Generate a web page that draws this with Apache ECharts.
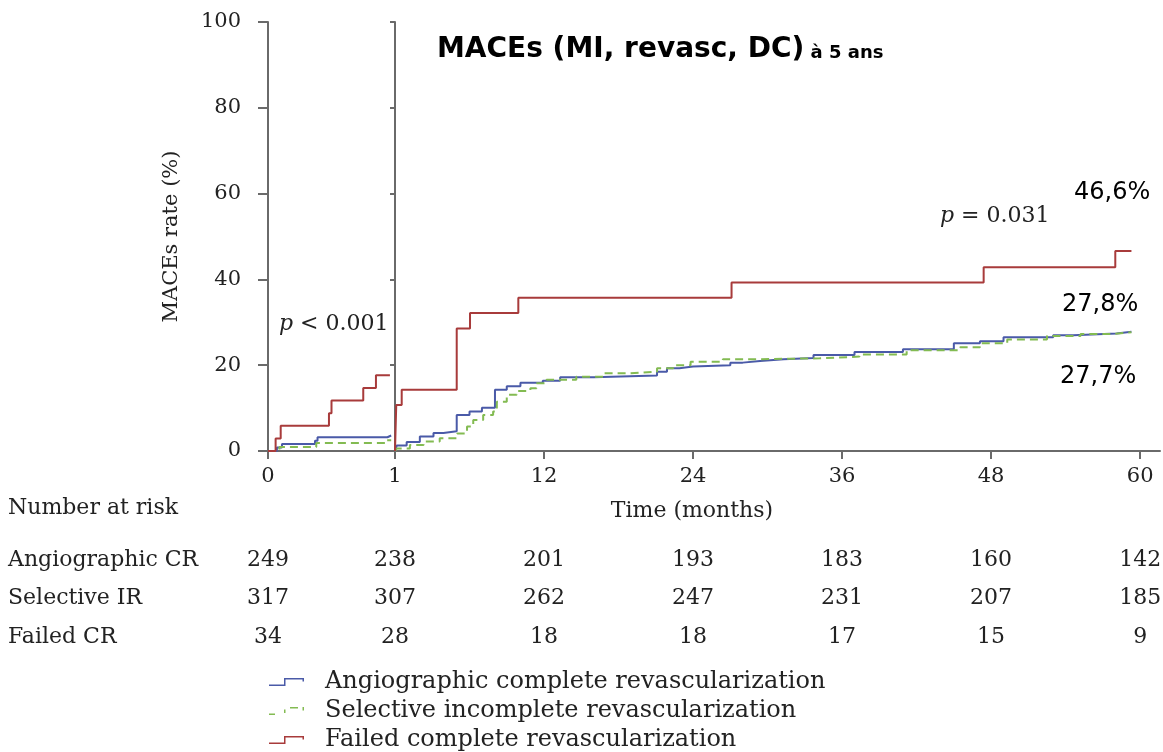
<!DOCTYPE html>
<html>
<head>
<meta charset="utf-8">
<script src="https://cdn.jsdelivr.net/npm/echarts@6/dist/echarts.min.js"></script>
<style>
  html, body { margin: 0; padding: 0; background: #fff; }
  #chart { width: 1163px; height: 752px; }
</style>
</head>
<body>
<div id="chart"></div>
<script>
// ---- data ----
const groupNames = [
  'Angiographic complete revascularization',
  'Selective incomplete revascularization',
  'Failed complete revascularization'
];
const riskGroups = ['Angiographic CR', 'Selective IR', 'Failed CR'];
const riskTimes = [0, 1, 12, 24, 36, 48, 60];
const riskAngio = [249, 238, 201, 193, 183, 160, 142];
const riskSelective = [317, 307, 262, 247, 231, 207, 185];
const riskFailed = [34, 28, 18, 18, 17, 15, 9];

const earlyTicks = [0, 1];
const lateTicks = [12, 24, 36, 48, 60];

// cumulative MACE rate (%) during the first month: [month, rate]
const angioEarly = [[0, 0], [0.07, 0.8], [0.11, 1.61], [0.37, 2.41], [0.39, 3.21], [0.94, 3.61], [0.97, 3.61]];
const selectiveEarly = [[0, 0], [0.09, 0.95], [0.38, 1.89], [0.93, 2.52], [0.97, 2.52]];
const failedEarly = [[0, 0], [0.06, 2.94], [0.10, 5.88], [0.48, 8.82], [0.50, 11.76], [0.75, 14.71], [0.85, 17.65], [0.96, 17.65]];

// cumulative MACE rate (%) after the 1-month landmark: [month, rate]
const angioLate = [[0, 0], [0.15, 1.3], [0.94, 2.1], [2.0, 3.4], [3.1, 4.2], [3.9, 4.6], [4.97, 8.4], [6.0, 9.2],
  [7.0, 10.1], [8.05, 14.3], [9.0, 15.1], [10.1, 15.9], [11.9, 16.4], [13.3, 17.2], [16.0, 17.6], [21.1, 18.5],
  [21.9, 19.3], [22.9, 19.7], [24.0, 20.0], [27.0, 20.6], [28.0, 21.0], [29.4, 21.4], [31.3, 21.7], [33.7, 22.4],
  [37.0, 23.1], [40.9, 23.7], [45.0, 25.1], [47.1, 25.6], [49.0, 26.5], [53.0, 27.0], [54.6, 27.4], [58.1, 27.8],
  [59.3, 27.8]];
const selectiveLate = [[0, 0], [0.15, 0.6], [1.2, 1.4], [2.3, 2.2], [3.6, 3.0], [5.0, 4.1], [5.8, 5.7], [6.3, 7.2],
  [7.1, 8.4], [7.9, 9.2], [8.2, 11.5], [9.0, 13.1], [9.8, 14.0], [10.9, 14.6], [11.4, 15.8], [12.2, 16.6],
  [14.6, 17.3], [16.8, 18.1], [18.9, 18.5], [21.1, 19.3], [22.4, 20.0], [23.8, 20.8], [26.4, 21.4], [29.1, 21.6],
  [34.2, 22.0], [37.4, 22.5], [41.2, 23.5], [45.5, 24.2], [47.1, 25.1], [49.3, 26.0], [52.5, 26.8], [55.2, 27.3],
  [57.8, 27.7], [59.3, 27.7]];
const failedLate = [[0, 0], [0.1, 10.71], [0.54, 14.29], [4.97, 28.57], [6.04, 32.14], [9.93, 35.71], [27.1, 39.29],
  [47.4, 42.86], [58.0, 46.6], [59.3, 46.6]];

const pEarly = '< 0.001';
const pLate = '= 0.031';

// ---- styling ----
const SERIF = '"DejaVu Serif", serif';
const SANS = '"DejaVu Sans", sans-serif';
const INK = '#222';
const AXIS = '#6a6a6a';
const colors = ['#4a5aa8', '#83bb52', '#a83b3b'];

const pct = v => v.toFixed(1).replace('.', ',') + '%';
const last = arr => arr[arr.length - 1][1];

const iconSolid = 'path://M0,6.5L15,6.5L15,0L35,0L35,3.5L33.5,3.5L33.5,1.5L16.5,1.5L16.5,8L0,8Z';
const iconDashed = 'path://M0,6.5L6,6.5L6,8L0,8ZM15,2.5L16.5,2.5L16.5,6L15,6ZM21,0L29,0L29,1.5L21,1.5ZM33.5,0L35,0L35,3.5L33.5,3.5Z';

const axisLine = { show: true, lineStyle: { color: AXIS, width: 2 } };

function lineSeries(name, data, xi, color, dashed) {
  return {
    type: 'line', name, data, step: 'end', xAxisIndex: xi, yAxisIndex: xi,
    showSymbol: false, silent: true,
    lineStyle: { color, width: 2, type: dashed ? [8, 5] : 'solid' },
    itemStyle: { color }
  };
}

const chart = echarts.init(document.getElementById('chart'), null, { renderer: 'canvas' });

const option = {
  backgroundColor: '#fff',
  animation: false,
  title: {
    text: '{a|MACEs (MI, revasc, DC)}{b| à 5 ans}',
    left: 432, top: 31,
    textStyle: {
      rich: {
        a: { fontFamily: SANS, fontWeight: 'bold', fontSize: 28, color: '#000' },
        b: { fontFamily: SANS, fontWeight: 'bold', fontSize: 18, color: '#000', padding: [6, 0, 0, 0] }
      }
    }
  },
  grid: [
    { left: 268, top: 22, width: 127, height: 429 },
    { left: 395, top: 22, right: 3, height: 429 }
  ],
  xAxis: [
    {
      type: 'value', gridIndex: 0, min: 0, max: 1,
      axisLine,
      axisTick: { show: true, length: 8, lineStyle: { color: AXIS, width: 2 }, customValues: earlyTicks },
      axisLabel: { fontFamily: SERIF, fontSize: 21, color: INK, margin: 15, customValues: earlyTicks },
      splitLine: { show: false }
    },
    {
      type: 'value', gridIndex: 1, min: 0, max: 61.6,
      axisLine,
      axisTick: { show: true, length: 8, lineStyle: { color: AXIS, width: 2 }, customValues: lateTicks },
      axisLabel: { fontFamily: SERIF, fontSize: 21, color: INK, margin: 15, customValues: lateTicks },
      splitLine: { show: false }
    }
  ],
  yAxis: [
    {
      type: 'value', gridIndex: 0, min: 0, max: 100, interval: 20,
      name: 'MACEs rate (%)', nameLocation: 'middle', nameGap: 86,
      nameTextStyle: { fontFamily: SERIF, fontSize: 21, color: INK },
      axisLine,
      axisTick: { show: true, length: 10, lineStyle: { color: AXIS, width: 2 } },
      axisLabel: { fontFamily: SERIF, fontSize: 21, color: INK, margin: 27 },
      splitLine: { show: false }
    },
    {
      type: 'value', gridIndex: 1, min: 0, max: 100, interval: 20,
      axisLine,
      axisTick: { show: true, length: 5, lineStyle: { color: AXIS, width: 2 } },
      axisLabel: { show: false },
      splitLine: { show: false }
    }
  ],
  legend: {
    orient: 'vertical', left: 269, top: 670, height: 82, padding: 0,
    itemWidth: 35, itemHeight: 8, itemGap: 5,
    selectedMode: false,
    itemStyle: { borderWidth: 0 },
    textStyle: { fontFamily: SERIF, fontSize: 24, color: INK, padding: [0, 0, 0, 16], lineHeight: 24 },
    data: [
      { name: groupNames[0], icon: iconSolid },
      { name: groupNames[1], icon: iconDashed },
      { name: groupNames[2], icon: iconSolid }
    ]
  },
  series: [
    lineSeries(groupNames[0], angioEarly, 0, colors[0], false),
    lineSeries(groupNames[1], selectiveEarly, 0, colors[1], true),
    lineSeries(groupNames[2], failedEarly, 0, colors[2], false),
    lineSeries(groupNames[0], angioLate, 1, colors[0], false),
    lineSeries(groupNames[1], selectiveLate, 1, colors[1], true),
    lineSeries(groupNames[2], failedLate, 1, colors[2], false)
  ]
};

chart.setOption(option);

// ---- annotations and number-at-risk table ----
function colX(i) {
  const t = riskTimes[i];
  if (t <= 1) return chart.convertToPixel({ xAxisIndex: 0 }, t);
  return chart.convertToPixel({ xAxisIndex: 1 }, t);
}

function txt(text, x, y, opts) {
  return {
    type: 'text', x, y, silent: true,
    style: Object.assign({
      text, fontFamily: SERIF, fontSize: 22, fill: INK, align: 'left', verticalAlign: 'middle'
    }, opts || {})
  };
}

const italicP = { i: { fontStyle: 'italic', fontFamily: SERIF, fontSize: 22 } };
const graphics = [];
graphics.push(txt('{i|p} ' + pEarly, 279, 324, { rich: italicP }));
graphics.push(txt('{i|p} ' + pLate, 940, 216, { rich: italicP }));
graphics.push(txt(pct(last(failedLate)), 1074, 193, { fontFamily: SANS, fontSize: 24, fill: '#000' }));
graphics.push(txt(pct(last(angioLate)), 1062, 305, { fontFamily: SANS, fontSize: 24, fill: '#000' }));
graphics.push(txt(pct(last(selectiveLate)), 1060, 377, { fontFamily: SANS, fontSize: 24, fill: '#000' }));

graphics.push(txt('Number at risk', 8, 508));
graphics.push(txt('Time (months)', 692, 511, { align: 'center' }));

const riskRows = [riskAngio, riskSelective, riskFailed];
const rowY = [560, 598, 637];
riskRows.forEach((row, r) => {
  graphics.push(txt(riskGroups[r], 8, rowY[r]));
  row.forEach((n, i) => {
    graphics.push(txt(String(n), colX(i), rowY[r], { align: 'center' }));
  });
});

chart.setOption({ graphic: graphics });
</script>
</body>
</html>
